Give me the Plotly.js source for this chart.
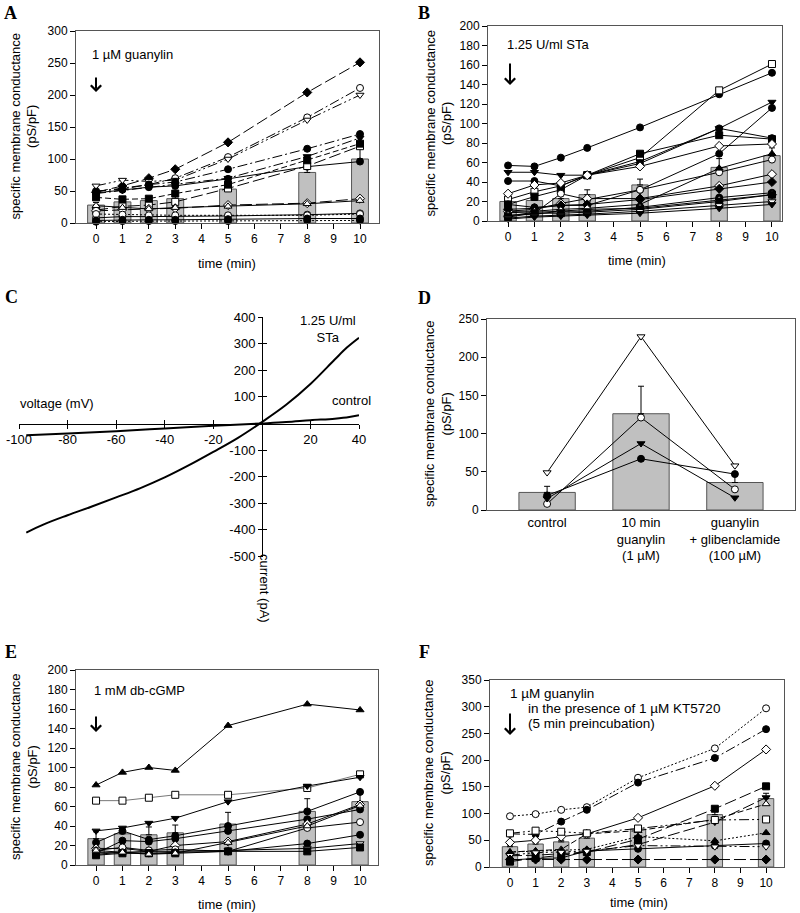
<!DOCTYPE html>
<html><head><meta charset="utf-8">
<script src="https://cdn.plot.ly/plotly-3.0.1.min.js"></script>
<style>html,body{margin:0;padding:0;background:#fff}#chart{width:800px;height:913px}</style>
</head><body><div id="chart"></div>
<script>
// ---------- DATA ----------
const timeMin = [0, 1, 2, 3, 5, 8, 10];
const timeTicks = [0, 1, 2, 3, 4, 5, 6, 7, 8, 9, 10];

// Panel A: 1 µM guanylin
const aMean = [28, 33, 35, 38, 53, 79, 100];
const aErr = [4, 4, 4, 6, 9, 12, 20];
const aCell1 = [48, 58, 70, 84, 126, 204, 251];
const aCell2 = [50, 53, 60, 70, 103, 165, 211];
const aCell3 = [58, 67, 65, 67, 100, 161, 200];
const aCell4 = [49, 55, 60, 64, 84, 116, 139];
const aCell5 = [46, 51, 56, 60, 70, 104, 133];
const aCell6 = [47, 52, 56, 58, 69, 88, 96];
const aCell7 = [20, 26, 28, 33, 54, 89, 120];
const aCell8 = [40, 37, 38, 46, 60, 98, 124];
const aCell9 = [19, 21, 22, 23, 28, 31, 38];
const aCell10 = [27, 24, 22, 24, 26, 30, 35];
const aCell11 = [8, 10, 10, 10, 11, 13, 15];
const aCell12 = [14, 13, 12, 12, 12, 12, 14];
const aCell13 = [4, 5, 5, 5, 6, 7, 7];
const aCell14 = [2, 3, 3, 3, 3, 4, 4];

// Panel B: 1.25 U/ml STa
const bMean = [20, 21, 23, 27, 37, 55, 67];
const bErr = [3, 3, 3, 5, 6, 9, 8];
const bCell1 = [57, 56, 65, 75, 96, 130, 152];
const bCell2 = [22, 30, 36, 47, 65, 134, 161];
const bCell3 = [50, 50, 47, 47, 61, 95, 122];
const bCell4 = [17, 14, 16, 16, 32, 69, 116];
const bCell5 = [17, 25, 32, 47, 69, 88, 84];
const bCell6 = [41, 41, 36, 47, 59, 95, 85];
const bCell7 = [28, 37, 39, 47, 56, 77, 79];
const bCell8 = [9, 8, 28, 22, 32, 50, 63];
const bCell9 = [10, 10, 12, 13, 17, 54, 69];
const bCell10 = [10, 12, 18, 23, 23, 36, 48];
const bCell11 = [12, 13, 16, 17, 22, 33, 40];
const bCell12 = [6, 7, 10, 10, 14, 24, 29];
const bCell13 = [5, 9, 10, 12, 13, 21, 27];
const bCell14 = [4, 8, 8, 9, 12, 20, 27];
const bCell15 = [3, 5, 6, 7, 10, 16, 20];
const bCell16 = [2, 4, 5, 6, 8, 13, 17];

// Panel C: current-voltage relation
const cVoltSTa = [-97, -90, -80, -70, -60, -50, -40, -30, -20, -10, 0, 10, 20, 30, 35, 40];
const cCurSTa = [-410, -380, -345, -312, -278, -243, -203, -157, -107, -55, 5, 70, 148, 240, 285, 322];
const cVoltCtrl = [-97, -80, -60, -40, -20, 0, 10, 20, 30, 36, 40];
const cCurCtrl = [-44, -38, -29, -19, -9, 0, 5, 12, 18, 24, 31];
const cXTicks = [-100, -80, -60, -40, -20, 20, 40];
const cXTickLabels = ['-100', '-80', '-60', '-40', '-20', '20', '40'];
const cYTicks = [-500, -400, -300, -200, -100, 100, 200, 300, 400];
const cYTickLabels = ['-500', '-400', '-300', '-200', '-100', '100', '200', '300', '400'];

// Panel D
const dCatPos = [0, 1, 2];
const dCatLabels = ['control', '10 min<br>guanylin<br>(1 µM)', 'guanylin<br>+ glibenclamide<br>(100 µM)'];
const dMean = [23, 126, 36];
const dErr = [8, 36, 11];
const dCell1 = [49, 227, 58];
const dCell2 = [8, 121, 27];
const dCell3 = [15, 87, 16];
const dCell4 = [19, 67, 47];

// Panel E: 1 mM db-cGMP
const eMean = [27, 32, 31, 33, 42, 55, 65];
const eErr = [7, 5, 8, 8, 12, 13, 9];
const eCell1 = [82, 95, 100, 97, 143, 165, 159];
const eCell2 = [66, 66, 69, 72, 72, 79, 93];
const eCell3 = [35, 38, 43, 48, 65, 81, 90];
const eCell4 = [23, 35, 26, 30, 40, 55, 75];
const eCell5 = [12, 25, 24, 27, 35, 47, 57];
const eCell6 = [17, 17, 14, 20, 24, 42, 62];
const eCell7 = [15, 18, 15, 16, 14, 38, 44];
const eCell8 = [11, 13, 12, 13, 14, 22, 31];
const eCell9 = [13, 13, 14, 14, 15, 17, 22];
const eCell10 = [10, 12, 12, 12, 14, 14, 18];
const eCell11 = [15, 13, 11, 12, 23, 40, 61];

// Panel F: guanylin + KT5720
const fMean = [38, 43, 47, 54, 71, 98, 128];
const fErr = [3, 3, 3, 3, 6, 11, 10];
const fCell1 = [95, 99, 107, 112, 167, 222, 297];
const fCell2 = [62, 61, 85, 107, 158, 204, 258];
const fCell3 = [46, 50, 57, 62, 92, 152, 220];
const fCell4 = [10, 17, 22, 28, 52, 109, 151];
const fCell5 = [21, 22, 25, 28, 42, 84, 130];
const fCell6 = [28, 30, 33, 62, 68, 89, 118];
const fCell7 = [63, 68, 66, 63, 72, 88, 89];
const fCell8 = [28, 30, 31, 33, 57, 49, 64];
const fCell9 = [13, 16, 17, 30, 34, 40, 44];
const fCell10 = [22, 27, 28, 30, 40, 38, 38];
const fCell11 = [14, 14, 14, 14, 14, 14, 14];

// ---------- STYLES ----------
const K = '#000', Wt = '#fff';
const LD = '12px,4px', DD = '10px,3px,2px,3px', DDD = '10px,3px,2px,3px,2px,3px', DOT = '2px,2px', DSH = '6px,3px';
const aSeries = [
  [aCell1, 'diamond', K, LD], [aCell2, 'circle', Wt, DD], [aCell3, 'triangle-down', Wt, DDD],
  [aCell4, 'circle', K, DD], [aCell5, 'triangle-down', K, DD], [aCell6, 'circle', K, 'solid'],
  [aCell7, 'square', Wt, LD], [aCell8, 'square', K, DSH], [aCell9, 'diamond', Wt, LD],
  [aCell10, 'triangle-up', Wt, 'solid'], [aCell11, 'circle', Wt, 'solid'], [aCell12, 'circle', Wt, DOT],
  [aCell13, 'circle', K, 'solid'], [aCell14, 'circle', K, DOT]
];
const bSeries = [
  [bCell1, 'circle', K], [bCell2, 'square', Wt], [bCell3, 'triangle-down', K], [bCell4, 'circle', K],
  [bCell5, 'square', K], [bCell6, 'circle', K], [bCell7, 'diamond', Wt], [bCell8, 'circle', Wt],
  [bCell9, 'triangle-up', K], [bCell10, 'diamond', Wt], [bCell11, 'diamond', K], [bCell12, 'circle', K],
  [bCell13, 'diamond', Wt], [bCell14, 'square', K], [bCell15, 'triangle-down', Wt], [bCell16, 'triangle-down', K]
];
const eSeries = [
  [eCell1, 'triangle-up', K, K], [eCell2, 'square', Wt, '#777'], [eCell3, 'triangle-down', K, K],
  [eCell4, 'circle', K, K], [eCell5, 'circle', K, K], [eCell6, 'diamond', Wt, K], [eCell7, 'circle', Wt, K],
  [eCell8, 'circle', K, K], [eCell9, 'triangle-down', Wt, K], [eCell10, 'square', K, K], [eCell11, 'triangle-up', Wt, K]
];
const fSeries = [
  [fCell1, 'circle', Wt, DOT], [fCell2, 'circle', K, DD], [fCell3, 'diamond', Wt, 'solid'],
  [fCell4, 'square', K, LD], [fCell5, 'triangle-down', K, LD], [fCell6, 'triangle-up', Wt, DSH],
  [fCell7, 'square', Wt, DDD], [fCell8, 'triangle-up', K, DOT], [fCell9, 'circle', K, 'solid'],
  [fCell10, 'triangle-down', Wt, DDD], [fCell11, 'diamond', K, LD]
];
const dSeries = [[dCell1, 'triangle-down', Wt], [dCell2, 'circle', Wt], [dCell3, 'triangle-down', K], [dCell4, 'circle', K]];

// ---------- HELPERS ----------
const W = 800, H = 913;
const hx = p => p / W;
const hy = p => 1 - p / H;
const FONT = 'Liberation Sans, Arial, sans-serif';
const SERIF = 'Liberation Serif, Times New Roman, serif';
const traces = [];

function barTrace(mean, err, xa, ya, x, w) {
  return {type: 'bar', x: x, y: mean, xaxis: xa, yaxis: ya, width: w,
    marker: {color: '#c0c0c0', line: {color: '#555', width: 1}},
    error_y: {type: 'data', symmetric: false, array: err, arrayminus: mean.map(() => 0), color: '#000', thickness: 1, width: 3},
    showlegend: false, hoverinfo: 'skip'};
}
function cellTrace(x, y, xa, ya, sym, fill, dash, lc) {
  return {type: 'scatter', mode: 'lines+markers', x: x, y: y, xaxis: xa, yaxis: ya,
    line: {color: lc || '#000', width: 1, dash: dash || 'solid'},
    marker: {symbol: sym, size: 7, color: fill, line: {color: '#000', width: 1}},
    showlegend: false, hoverinfo: 'skip', cliponaxis: false};
}

// A
traces.push(barTrace(aMean, aErr, 'x', 'y', timeMin, 0.64));
aSeries.forEach(s => traces.push(cellTrace(timeMin, s[0], 'x', 'y', s[1], s[2], s[3])));
// B
traces.push(barTrace(bMean, bErr, 'x2', 'y2', timeMin, 0.62));
bSeries.forEach(s => traces.push(cellTrace(timeMin, s[0], 'x2', 'y2', s[1], s[2], 'solid')));
// C
traces.push({type: 'scatter', mode: 'lines', x: cVoltSTa, y: cCurSTa, xaxis: 'x3', yaxis: 'y3', line: {color: '#000', width: 2, shape: 'spline'}, showlegend: false, hoverinfo: 'skip'});
traces.push({type: 'scatter', mode: 'lines', x: cVoltCtrl, y: cCurCtrl, xaxis: 'x3', yaxis: 'y3', line: {color: '#000', width: 2, shape: 'spline'}, showlegend: false, hoverinfo: 'skip'});
traces.push({type: 'scatter', mode: 'lines', x: [null], y: [null], xaxis: 'x7', yaxis: 'y7', showlegend: false, hoverinfo: 'skip'});
// D
traces.push(barTrace(dMean, dErr, 'x4', 'y4', dCatPos, 0.6));
dSeries.forEach(s => traces.push(cellTrace(dCatPos, s[0], 'x4', 'y4', s[1], s[2], 'solid')));
// E
traces.push(barTrace(eMean, eErr, 'x5', 'y5', timeMin, 0.62));
eSeries.forEach(s => traces.push(cellTrace(timeMin, s[0], 'x5', 'y5', s[1], s[2], 'solid', s[3])));
// F
traces.push(barTrace(fMean, fErr, 'x6', 'y6', timeMin, 0.6));
fSeries.forEach(s => traces.push(cellTrace(timeMin, s[0], 'x6', 'y6', s[1], s[2], s[3])));

// ---------- AXES ----------
function xAx(l, r, range, anchor, extra) {
  return Object.assign({domain: [hx(l), hx(r)], range: range, anchor: anchor, tickvals: timeTicks,
    ticks: 'outside', ticklen: 5, tickcolor: '#000', showline: true, linecolor: '#555', linewidth: 1, mirror: true,
    showgrid: false, zeroline: false, tickfont: {size: 12, family: FONT, color: '#000'}, fixedrange: true}, extra || {});
}
function yAx(b, t, range, dtick, anchor) {
  return {domain: [hy(b), hy(t)], range: range, dtick: dtick, tick0: 0, anchor: anchor,
    ticks: 'outside', ticklen: 5, tickcolor: '#000', showline: true, linecolor: '#555', linewidth: 1, mirror: true,
    showgrid: false, zeroline: false, tickfont: {size: 12, family: FONT, color: '#000'}, fixedrange: true};
}

const layout = {
  width: W, height: H, margin: {l: 0, r: 0, t: 0, b: 0}, paper_bgcolor: '#fff', plot_bgcolor: 'rgba(0,0,0,0)',
  showlegend: false, bargap: 0, font: {family: FONT, color: '#000'},
  xaxis: xAx(76, 379, [-0.76, 10.72], 'y'),
  yaxis: yAx(223, 31, [0, 300], 50, 'x'),
  xaxis2: xAx(488, 782, [-0.76, 10.38], 'y2'),
  yaxis2: yAx(221, 26, [0, 200], 20, 'x2'),
  xaxis3: {domain: [hx(19), hx(359)], range: [-100, 40], anchor: 'free', position: hy(423.5), tickvals: cXTicks, ticktext: cXTickLabels,
    ticks: 'outside', ticklen: 4, tickcolor: '#000', showline: true, linecolor: '#000', linewidth: 1,
    showgrid: false, zeroline: false, tickfont: {size: 13, family: FONT, color: '#000'}, fixedrange: true},
  yaxis3: {domain: [hy(556.5), hy(317)], range: [-500, 400], anchor: 'free', position: hx(262), tickvals: cYTicks, ticktext: cYTickLabels,
    ticks: 'outside', ticklen: 4, tickcolor: '#000', showline: true, linecolor: '#000', linewidth: 1,
    showgrid: false, zeroline: false, tickfont: {size: 13, family: FONT, color: '#000'}, fixedrange: true},
  xaxis7: {overlaying: 'x3', range: [-100, 40], anchor: 'free', position: hy(423.5), tickvals: cXTicks,
    ticks: 'inside', ticklen: 4, tickcolor: '#000', showticklabels: false, showline: false, showgrid: false, zeroline: false, fixedrange: true},
  yaxis7: {overlaying: 'y3', range: [-500, 400], anchor: 'free', position: hx(262), tickvals: cYTicks,
    ticks: 'inside', ticklen: 4, tickcolor: '#000', showticklabels: false, showline: false, showgrid: false, zeroline: false, fixedrange: true},
  xaxis4: {domain: [hx(487), hx(795)], range: [-0.64, 2.64], anchor: 'y4', tickvals: dCatPos, ticktext: dCatLabels,
    ticks: '', showline: true, linecolor: '#555', linewidth: 1, mirror: true, showgrid: false, zeroline: false,
    tickfont: {size: 13, family: FONT, color: '#000'}, fixedrange: true},
  yaxis4: yAx(510, 319, [0, 250], 50, 'x4'),
  xaxis5: xAx(76, 378, [-0.76, 10.68], 'y5'),
  yaxis5: yAx(865, 670, [0, 200], 20, 'x5'),
  xaxis6: xAx(490, 784, [-0.78, 10.7], 'y6'),
  yaxis6: yAx(867, 680, [0, 350], 50, 'x6'),
  annotations: []
};

function txt(t, x, y, opts) {
  layout.annotations.push(Object.assign({text: t, xref: 'paper', yref: 'paper', x: hx(x), y: hy(y), showarrow: false,
    xanchor: 'center', yanchor: 'middle', font: {size: 13, family: FONT, color: '#000'}}, opts || {}));
}
function arrow(x, yHead, yTail) {
  layout.annotations.push({text: '', xref: 'paper', yref: 'paper', x: hx(x), y: hy(yHead), ax: 0, ay: yTail - yHead,
    axref: 'pixel', ayref: 'pixel', showarrow: true, arrowhead: 4, arrowsize: 1, arrowwidth: 2, arrowcolor: '#000', standoff: 0});
}
const letterFont = {size: 18, family: SERIF, color: '#000', weight: 'bold'};
txt('<b>A</b>', 10, 13, {font: letterFont});
txt('<b>B</b>', 424, 13, {font: letterFont});
txt('<b>C</b>', 11, 297, {font: letterFont});
txt('<b>D</b>', 424, 298, {font: letterFont});
txt('<b>E</b>', 11, 652, {font: letterFont});
txt('<b>F</b>', 424, 652, {font: letterFont});

const ytitle = 'specific membrane conductance<br>(pS/pF)';
txt(ytitle, 23.5, 127, {textangle: -90});
txt(ytitle, 438, 123.5, {textangle: -90});
txt(ytitle, 437.5, 414.5, {textangle: -90});
txt(ytitle, 23.5, 767.5, {textangle: -90});
txt(ytitle, 436.5, 773.5, {textangle: -90});

txt('time (min)', 227, 263);
txt('time (min)', 637, 261);
txt('time (min)', 227, 904);
txt('time (min)', 639, 902);

txt('1 µM guanylin', 90, 55, {xanchor: 'left'});
arrow(96, 92, 76);
txt('1.25 U/ml STa', 505, 45, {xanchor: 'left'});
arrow(510, 85, 62);
txt('1 mM db-cGMP', 92, 690, {xanchor: 'left'});
arrow(96, 732, 715);
txt('1 µM guanylin', 508, 693, {xanchor: 'left', font: {size: 13.5, family: FONT, color: '#000'}});
txt('in the presence of 1 µM KT5720', 526, 708, {xanchor: 'left', font: {size: 13.5, family: FONT, color: '#000'}});
txt('(5 min preincubation)', 526, 723, {xanchor: 'left', font: {size: 13.5, family: FONT, color: '#000'}});
arrow(510, 735, 712);

txt('1.25 U/ml<br>STa', 328, 329);
txt('control', 330, 400, {xanchor: 'left'});
txt('voltage (mV)', 18, 403, {xanchor: 'left'});
txt('current (pA)', 265, 588, {textangle: 90});

Plotly.newPlot('chart', traces, layout, {staticPlot: true, displayModeBar: false});
</script></body></html>
